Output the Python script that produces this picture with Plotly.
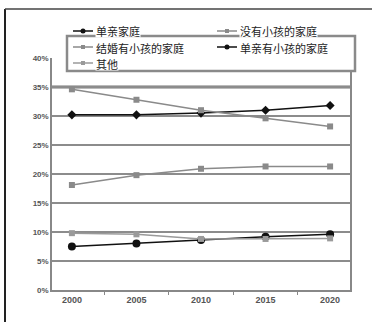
import plotly.graph_objects as go

years = ["2000", "2005", "2010", "2015", "2020"]
single = [30.2, 30.2, 30.5, 31.0, 31.8]           # 单亲家庭
no_child = [18.1, 19.8, 20.9, 21.3, 21.3]         # 没有小孩的家庭
married_child = [34.6, 32.8, 31.0, 29.6, 28.2]    # 结婚有小孩的家庭
single_parent = [7.5, 8.0, 8.6, 9.2, 9.6]         # 单亲有小孩的家庭
other = [9.8, 9.6, 8.8, 8.8, 8.9]                 # 其他
y_ticks = [0, 5, 10, 15, 20, 25, 30, 35, 40]
y_labels = ["0%", "5%", "10%", "15%", "20%", "25%", "30%", "35%", "40%"]

FONT = "Noto Sans CJK SC"
W, H = 377, 322
ML, MR, MT, MB = 52, 27, 58, 32
PW, PH = W - ML - MR, H - MT - MB


def px(x):
    return (x - ML) / PW


def py(y):
    return (H - MB - y) / PH


fig = go.Figure()
series = [
    ("单亲家庭", single, "#111111", "diamond", 7),
    ("没有小孩的家庭", no_child, "#8a8a8a", "square", 6),
    ("结婚有小孩的家庭", married_child, "#8a8a8a", "square", 6),
    ("单亲有小孩的家庭", single_parent, "#111111", "circle", 8),
    ("其他", other, "#9a9a9a", "square", 6),
]
for name, vals, col, sym, sz in series:
    fig.add_trace(go.Scatter(
        x=years, y=vals, name=name, mode="lines+markers",
        line=dict(color=col, width=1.5),
        marker=dict(color=col, symbol=sym, size=sz),
        showlegend=False,
    ))

fig.update_layout(
    width=W, height=H,
    margin=dict(l=ML, r=MR, t=MT, b=MB, autoexpand=False),
    paper_bgcolor="white", plot_bgcolor="white",
    font=dict(family=FONT, color="#333333"),
    showlegend=False,
    xaxis=dict(
        type="category", tickson="boundaries", ticks="outside", ticklen=3,
        tickcolor="#888888", showline=True, linecolor="#888888", linewidth=2,
        mirror=False, showgrid=False,
        tickfont=dict(size=9, color="#555555", family="Liberation Sans", weight="bold"),
    ),
    yaxis=dict(
        range=[0, 40], tickvals=y_ticks, ticktext=y_labels,
        showgrid=True, gridcolor="#8c8c8c", gridwidth=1.5,
        showline=True, linecolor="#888888", linewidth=1.5, mirror=True,
        zeroline=False, ticks="",
        tickfont=dict(size=8, color="#555555", family="Liberation Sans", weight="bold"),
    ),
)
# heavier 35% gridline
fig.add_shape(type="line", xref="paper", yref="y", x0=0, x1=1, y0=35, y1=35,
              line=dict(color="#777777", width=3), layer="below")
# outer frame (left and top)
fig.add_shape(type="line", xref="paper", yref="paper", x0=px(5), x1=px(5), y0=py(322), y1=py(9),
              line=dict(color="#222222", width=2))
fig.add_shape(type="line", xref="paper", yref="paper", x0=px(5), x1=px(372), y0=py(9), y1=py(9),
              line=dict(color="#444444", width=1.5))

# legend box
fig.add_shape(type="rect", xref="paper", yref="paper", x0=px(67), x1=px(355), y0=py(71), y1=py(36),
              line=dict(color="#8a8a8a", width=2.5), fillcolor="white")
leg_pos = [(73, 31), (217, 31), (73, 47), (217, 47), (73, 63)]
for (name, vals, col, sym, sz), (lx, ly) in zip(series, leg_pos):
    fig.add_shape(type="line", xref="paper", yref="paper", x0=px(lx), x1=px(lx + 20),
                  y0=py(ly), y1=py(ly), line=dict(color=col, width=1.5))
    r = 2.5 if col == "#111111" else 2
    if sym == "square":
        fig.add_shape(type="rect", xref="paper", yref="paper", x0=px(lx + 10 - r), x1=px(lx + 10 + r),
                      y0=py(ly + r), y1=py(ly - r), line=dict(width=0), fillcolor=col)
    else:
        fig.add_shape(type="circle", xref="paper", yref="paper", x0=px(lx + 10 - r), x1=px(lx + 10 + r),
                      y0=py(ly + r), y1=py(ly - r), line=dict(width=0), fillcolor=col)
    fig.add_annotation(xref="paper", yref="paper", x=px(lx + 22), y=py(ly), text=name,
                       showarrow=False, xanchor="left", yanchor="middle",
                       font=dict(size=11, family=FONT, color="#222222"),
                       bgcolor="white", borderpad=0, height=13)
fig.write_html("out.html")
